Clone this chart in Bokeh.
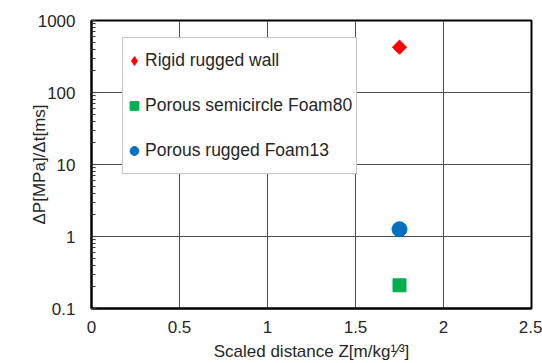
import math
from bokeh.plotting import figure
from bokeh.models import (Range1d, FixedTicker, CustomJSTickFormatter, Legend,
                          LegendItem)
from bokeh.embed import file_html
from bokeh.resources import INLINE

# ---- data ----
series_names = ["Rigid rugged wall", "Porous semicircle Foam80", "Porous rugged Foam13"]
series_colors = ["#ff0000", "#00b050", "#0070c0"]
rigid_z = [1.75]
rigid_rate = [426]
foam80_z = [1.75]
foam80_rate = [0.21]
foam13_z = [1.75]
foam13_rate = [1.26]
x_ticks = [0, 0.5, 1, 1.5, 2, 2.5]
y_ticks = [0.1, 1, 10, 100, 1000]

FONT = "Liberation Sans"
TXT = "#262626"
FS = "17px"

p = figure(width=542, height=363,
           x_range=Range1d(0, 2.5), y_range=Range1d(0.1, 1000),
           y_axis_type="log", output_backend="svg", toolbar_location=None,
           min_border_left=91, min_border_right=11,
           min_border_top=20, min_border_bottom=52,
           background_fill_color="white", border_fill_color="white")

p.outline_line_color = "black"
p.outline_line_width = 2

# grid
p.xgrid.ticker = FixedTicker(ticks=x_ticks)
p.grid.grid_line_color = "#4d4d4d"
p.grid.grid_line_width = 1

# x axis
p.xaxis.ticker = FixedTicker(ticks=x_ticks)
p.xaxis.formatter = CustomJSTickFormatter(code="return String(Math.round(tick*10)/10);")
p.xaxis.major_tick_in = 0
p.xaxis.major_tick_out = 0
p.xaxis.minor_tick_in = 0
p.xaxis.minor_tick_out = 0
p.xaxis.major_label_standoff = 12
p.xaxis.axis_label = "Scaled distance Z[m/kg\u00b9\u2044\u00b3]"
p.xaxis.axis_label_standoff = 6

# y axis
p.yaxis.formatter = CustomJSTickFormatter(code="return tick < 1 ? tick.toFixed(1) : tick.toFixed(0);")
p.yaxis.major_tick_in = 5
p.yaxis.major_tick_out = 0
p.yaxis.minor_tick_in = 4
p.yaxis.minor_tick_out = 0
p.yaxis.major_label_standoff = 16
p.yaxis.axis_label = "ΔP[MPa]/Δt[ms]"
p.yaxis.axis_label_standoff = -14

for ax in (p.xaxis, p.yaxis):
    ax.axis_line_color = "black"
    ax.axis_line_width = 2
    ax.major_tick_line_color = "#333333"
    ax.minor_tick_line_color = "#333333"
    ax.major_label_text_font = FONT
    ax.major_label_text_font_size = FS
    ax.major_label_text_color = TXT
    ax.axis_label_text_font = FONT
    ax.axis_label_text_font_size = FS
    ax.axis_label_text_color = TXT
    ax.axis_label_text_font_style = "normal"

# ---- points ----
# rigid: diamond drawn as a rotated square, with a smaller diamond (used for the legend) inside it
p.scatter(rigid_z, rigid_rate, marker="square", size=10, angle=math.pi / 4,
          fill_color=series_colors[0], line_color=series_colors[0])
r_rigid = p.scatter(rigid_z, rigid_rate, marker="diamond", size=12,
                    fill_color=series_colors[0], line_color=series_colors[0])
r_f80 = p.scatter(foam80_z, foam80_rate, marker="square", size=13,
                  fill_color=series_colors[1], line_color=series_colors[1])
r_f13 = p.scatter(foam13_z, foam13_rate, marker="circle", size=15,
                  fill_color=series_colors[2], line_color=series_colors[2])

items = [LegendItem(label=series_names[0], renderers=[r_rigid]),
         LegendItem(label=series_names[1], renderers=[r_f80]),
         LegendItem(label=series_names[2], renderers=[r_f13])]
legend = Legend(items=items, location=(31, 134), orientation="vertical",
                padding=0, spacing=0, margin=0,
                glyph_width=22, glyph_height=45, label_height=45, label_width=211,
                label_standoff=-1, label_text_font=FONT, label_text_font_size="17.5px",
                label_text_color=TXT, border_line_color="#8c8c8c", border_line_width=1,
                background_fill_color="white", background_fill_alpha=1)
p.add_layout(legend, "center")

open("out.html", "w").write(file_html(p, INLINE))
